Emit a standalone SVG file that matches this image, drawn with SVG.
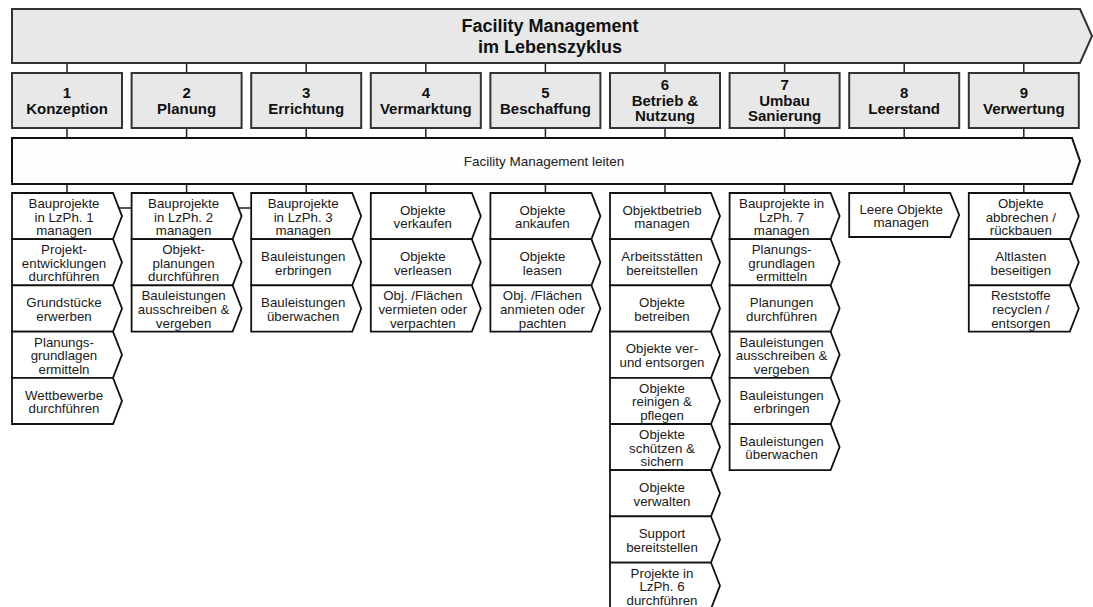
<svg xmlns="http://www.w3.org/2000/svg" width="1093" height="607" viewBox="0 0 1093 607">
  <style>
    .banner { fill: #e8e8e8; stroke: #333; stroke-width: 2; stroke-linejoin: miter; }
    .lead { fill: #fdfdfd; stroke: #111; stroke-width: 2; }
    .phase { fill: #e8e8e8; stroke: #333; stroke-width: 2; }
    .task { fill: #ffffff; stroke: #111; stroke-width: 1.8; stroke-linejoin: miter; }
    .wire { stroke: #222; stroke-width: 1.5; fill: none; }
    .title { font-family: "Liberation Sans", Arial, sans-serif; font-size: 18px; font-weight: bold; fill: #111; text-anchor: middle; }
    .ph { font-family: "Liberation Sans", Arial, sans-serif; font-size: 15px; font-weight: bold; fill: #111; text-anchor: middle; }
    .lt { font-family: "Liberation Sans", Arial, sans-serif; font-size: 13.5px; fill: #222; text-anchor: middle; }
    .t { font-family: "Liberation Sans", Arial, sans-serif; font-size: 13.3px; fill: #1a1a1a; text-anchor: middle; }
  </style>

  <rect width="1093" height="607" fill="#ffffff"/>

  <!-- connectors -->
  <g id="connectors" class="wire">
    <!-- banner to phases -->
    <path d="M67 63V73M186.6 63V73M306.2 63V73M425.8 63V73M545.4 63V73M665 63V73M784.6 63V73M904.2 63V73M1023.8 63V73"/>
    <!-- phases to management bar -->
    <path d="M67 128V138M186.6 128V138M306.2 128V138M425.8 128V138M545.4 128V138M665 128V138M784.6 128V138M904.2 128V138M1023.8 128V138"/>
    <!-- management bar to task columns -->
    <path d="M67 184V193M186.6 184V193M306.2 184V193M425.8 184V193M545.4 184V193M665 184V193M784.6 184V193M904.2 184V193M1023.8 184V193"/>
    <!-- links between project tasks -->
    <path d="M118.8 208H131.6M238.4 208H251.2"/>
  </g>

  <!-- top banner -->
  <g id="lifecycle">
    <polygon class="banner" points="12,9 1080,9 1092,36 1080,63 12,63"/>
    <text class="title" x="550" y="32">Facility Management</text>
    <text class="title" x="550" y="53">im Lebenszyklus</text>
  </g>

  <!-- phases -->
  <g id="phase1"><rect class="phase" x="12" y="73" width="110" height="55"/>
    <text class="ph" x="67" y="98"><tspan x="67">1</tspan><tspan x="67" dy="15.5">Konzeption</tspan></text></g>
  <g id="phase2"><rect class="phase" x="131.6" y="73" width="110" height="55"/>
    <text class="ph" x="186.6" y="98"><tspan x="186.6">2</tspan><tspan x="186.6" dy="15.5">Planung</tspan></text></g>
  <g id="phase3"><rect class="phase" x="251.2" y="73" width="110" height="55"/>
    <text class="ph" x="306.2" y="98"><tspan x="306.2">3</tspan><tspan x="306.2" dy="15.5">Errichtung</tspan></text></g>
  <g id="phase4"><rect class="phase" x="370.8" y="73" width="110" height="55"/>
    <text class="ph" x="425.8" y="98"><tspan x="425.8">4</tspan><tspan x="425.8" dy="15.5">Vermarktung</tspan></text></g>
  <g id="phase5"><rect class="phase" x="490.4" y="73" width="110" height="55"/>
    <text class="ph" x="545.4" y="98"><tspan x="545.4">5</tspan><tspan x="545.4" dy="15.5">Beschaffung</tspan></text></g>
  <g id="phase6"><rect class="phase" x="610" y="73" width="110" height="55"/>
    <text class="ph" x="665" y="90.2"><tspan x="665">6</tspan><tspan x="665" dy="15.5">Betrieb &amp;</tspan><tspan x="665" dy="15.5">Nutzung</tspan></text></g>
  <g id="phase7"><rect class="phase" x="729.6" y="73" width="110" height="55"/>
    <text class="ph" x="784.6" y="90.2"><tspan x="784.6">7</tspan><tspan x="784.6" dy="15.5">Umbau</tspan><tspan x="784.6" dy="15.5">Sanierung</tspan></text></g>
  <g id="phase8"><rect class="phase" x="849.2" y="73" width="110" height="55"/>
    <text class="ph" x="904.2" y="98"><tspan x="904.2">8</tspan><tspan x="904.2" dy="15.5">Leerstand</tspan></text></g>
  <g id="phase9"><rect class="phase" x="968.8" y="73" width="110" height="55"/>
    <text class="ph" x="1023.8" y="98"><tspan x="1023.8">9</tspan><tspan x="1023.8" dy="15.5">Verwertung</tspan></text></g>

  <!-- management bar -->
  <g id="fm-leiten">
    <polygon class="lead" points="12,138 1072,138 1080,161 1072,184 12,184"/>
    <text class="lt" x="544" y="166">Facility Management leiten</text>
  </g>

  <!-- column 1 -->
  <g id="c1-1"><polygon class="task" points="12,193 113,193 122,216.1 113,239.2 12,239.2"/>
    <text class="t" y="208"><tspan x="64">Bauprojekte</tspan><tspan x="64" dy="13.6">in LzPh. 1</tspan><tspan x="64" dy="13.6">managen</tspan></text></g>
  <g id="c1-2"><polygon class="task" points="12,239.2 113,239.2 122,262.3 113,285.4 12,285.4"/>
    <text class="t" y="254.2"><tspan x="64">Projekt-</tspan><tspan x="64" dy="13.6">entwicklungen</tspan><tspan x="64" dy="13.6">durchführen</tspan></text></g>
  <g id="c1-3"><polygon class="task" points="12,285.4 113,285.4 122,308.5 113,331.6 12,331.6"/>
    <text class="t" y="307.2"><tspan x="64">Grundstücke</tspan><tspan x="64" dy="13.6">erwerben</tspan></text></g>
  <g id="c1-4"><polygon class="task" points="12,331.6 113,331.6 122,354.7 113,377.8 12,377.8"/>
    <text class="t" y="346.6"><tspan x="64">Planungs-</tspan><tspan x="64" dy="13.6">grundlagen</tspan><tspan x="64" dy="13.6">ermitteln</tspan></text></g>
  <g id="c1-5"><polygon class="task" points="12,377.8 113,377.8 122,400.9 113,424 12,424"/>
    <text class="t" y="399.6"><tspan x="64">Wettbewerbe</tspan><tspan x="64" dy="13.6">durchführen</tspan></text></g>

  <!-- column 2 -->
  <g id="c2-1"><polygon class="task" points="131.6,193 232.6,193 241.6,216.1 232.6,239.2 131.6,239.2"/>
    <text class="t" y="208"><tspan x="183.6">Bauprojekte</tspan><tspan x="183.6" dy="13.6">in LzPh. 2</tspan><tspan x="183.6" dy="13.6">managen</tspan></text></g>
  <g id="c2-2"><polygon class="task" points="131.6,239.2 232.6,239.2 241.6,262.3 232.6,285.4 131.6,285.4"/>
    <text class="t" y="254.2"><tspan x="183.6">Objekt-</tspan><tspan x="183.6" dy="13.6">planungen</tspan><tspan x="183.6" dy="13.6">durchführen</tspan></text></g>
  <g id="c2-3"><polygon class="task" points="131.6,285.4 232.6,285.4 241.6,308.5 232.6,331.6 131.6,331.6"/>
    <text class="t" y="300.4"><tspan x="183.6">Bauleistungen</tspan><tspan x="183.6" dy="13.6">ausschreiben &amp;</tspan><tspan x="183.6" dy="13.6">vergeben</tspan></text></g>

  <!-- column 3 -->
  <g id="c3-1"><polygon class="task" points="251.2,193 352.2,193 361.2,216.1 352.2,239.2 251.2,239.2"/>
    <text class="t" y="208"><tspan x="303.2">Bauprojekte</tspan><tspan x="303.2" dy="13.6">in LzPh. 3</tspan><tspan x="303.2" dy="13.6">managen</tspan></text></g>
  <g id="c3-2"><polygon class="task" points="251.2,239.2 352.2,239.2 361.2,262.3 352.2,285.4 251.2,285.4"/>
    <text class="t" y="261"><tspan x="303.2">Bauleistungen</tspan><tspan x="303.2" dy="13.6">erbringen</tspan></text></g>
  <g id="c3-3"><polygon class="task" points="251.2,285.4 352.2,285.4 361.2,308.5 352.2,331.6 251.2,331.6"/>
    <text class="t" y="307.2"><tspan x="303.2">Bauleistungen</tspan><tspan x="303.2" dy="13.6">überwachen</tspan></text></g>

  <!-- column 4 -->
  <g id="c4-1"><polygon class="task" points="370.8,193 471.8,193 480.8,216.1 471.8,239.2 370.8,239.2"/>
    <text class="t" y="214.8"><tspan x="422.8">Objekte</tspan><tspan x="422.8" dy="13.6">verkaufen</tspan></text></g>
  <g id="c4-2"><polygon class="task" points="370.8,239.2 471.8,239.2 480.8,262.3 471.8,285.4 370.8,285.4"/>
    <text class="t" y="261"><tspan x="422.8">Objekte</tspan><tspan x="422.8" dy="13.6">verleasen</tspan></text></g>
  <g id="c4-3"><polygon class="task" points="370.8,285.4 471.8,285.4 480.8,308.5 471.8,331.6 370.8,331.6"/>
    <text class="t" y="300.4"><tspan x="422.8">Obj. /Flächen</tspan><tspan x="422.8" dy="13.6">vermieten oder</tspan><tspan x="422.8" dy="13.6">verpachten</tspan></text></g>

  <!-- column 5 -->
  <g id="c5-1"><polygon class="task" points="490.4,193 591.4,193 600.4,216.1 591.4,239.2 490.4,239.2"/>
    <text class="t" y="214.8"><tspan x="542.4">Objekte</tspan><tspan x="542.4" dy="13.6">ankaufen</tspan></text></g>
  <g id="c5-2"><polygon class="task" points="490.4,239.2 591.4,239.2 600.4,262.3 591.4,285.4 490.4,285.4"/>
    <text class="t" y="261"><tspan x="542.4">Objekte</tspan><tspan x="542.4" dy="13.6">leasen</tspan></text></g>
  <g id="c5-3"><polygon class="task" points="490.4,285.4 591.4,285.4 600.4,308.5 591.4,331.6 490.4,331.6"/>
    <text class="t" y="300.4"><tspan x="542.4">Obj. /Flächen</tspan><tspan x="542.4" dy="13.6">anmieten oder</tspan><tspan x="542.4" dy="13.6">pachten</tspan></text></g>

  <!-- column 6 -->
  <g id="c6-1"><polygon class="task" points="610,193 711,193 720,216.1 711,239.2 610,239.2"/>
    <text class="t" y="214.8"><tspan x="662">Objektbetrieb</tspan><tspan x="662" dy="13.6">managen</tspan></text></g>
  <g id="c6-2"><polygon class="task" points="610,239.2 711,239.2 720,262.3 711,285.4 610,285.4"/>
    <text class="t" y="261"><tspan x="662">Arbeitsstätten</tspan><tspan x="662" dy="13.6">bereitstellen</tspan></text></g>
  <g id="c6-3"><polygon class="task" points="610,285.4 711,285.4 720,308.5 711,331.6 610,331.6"/>
    <text class="t" y="307.2"><tspan x="662">Objekte</tspan><tspan x="662" dy="13.6">betreiben</tspan></text></g>
  <g id="c6-4"><polygon class="task" points="610,331.6 711,331.6 720,354.7 711,377.8 610,377.8"/>
    <text class="t" y="353.4"><tspan x="662">Objekte ver-</tspan><tspan x="662" dy="13.6">und entsorgen</tspan></text></g>
  <g id="c6-5"><polygon class="task" points="610,377.8 711,377.8 720,400.9 711,424 610,424"/>
    <text class="t" y="392.8"><tspan x="662">Objekte</tspan><tspan x="662" dy="13.6">reinigen &amp;</tspan><tspan x="662" dy="13.6">pflegen</tspan></text></g>
  <g id="c6-6"><polygon class="task" points="610,424 711,424 720,447.1 711,470.2 610,470.2"/>
    <text class="t" y="439"><tspan x="662">Objekte</tspan><tspan x="662" dy="13.6">schützen &amp;</tspan><tspan x="662" dy="13.6">sichern</tspan></text></g>
  <g id="c6-7"><polygon class="task" points="610,470.2 711,470.2 720,493.3 711,516.4 610,516.4"/>
    <text class="t" y="492"><tspan x="662">Objekte</tspan><tspan x="662" dy="13.6">verwalten</tspan></text></g>
  <g id="c6-8"><polygon class="task" points="610,516.4 711,516.4 720,539.5 711,562.6 610,562.6"/>
    <text class="t" y="538.2"><tspan x="662">Support</tspan><tspan x="662" dy="13.6">bereitstellen</tspan></text></g>
  <g id="c6-9"><polygon class="task" points="610,562.6 711,562.6 720,585.7 711,608.8 610,608.8"/>
    <text class="t" y="577.6"><tspan x="662">Projekte in</tspan><tspan x="662" dy="13.6">LzPh. 6</tspan><tspan x="662" dy="13.6">durchführen</tspan></text></g>

  <!-- column 7 -->
  <g id="c7-1"><polygon class="task" points="729.6,193 830.6,193 839.6,216.1 830.6,239.2 729.6,239.2"/>
    <text class="t" y="208"><tspan x="781.6">Bauprojekte in</tspan><tspan x="781.6" dy="13.6">LzPh. 7</tspan><tspan x="781.6" dy="13.6">managen</tspan></text></g>
  <g id="c7-2"><polygon class="task" points="729.6,239.2 830.6,239.2 839.6,262.3 830.6,285.4 729.6,285.4"/>
    <text class="t" y="254.2"><tspan x="781.6">Planungs-</tspan><tspan x="781.6" dy="13.6">grundlagen</tspan><tspan x="781.6" dy="13.6">ermitteln</tspan></text></g>
  <g id="c7-3"><polygon class="task" points="729.6,285.4 830.6,285.4 839.6,308.5 830.6,331.6 729.6,331.6"/>
    <text class="t" y="307.2"><tspan x="781.6">Planungen</tspan><tspan x="781.6" dy="13.6">durchführen</tspan></text></g>
  <g id="c7-4"><polygon class="task" points="729.6,331.6 830.6,331.6 839.6,354.7 830.6,377.8 729.6,377.8"/>
    <text class="t" y="346.6"><tspan x="781.6">Bauleistungen</tspan><tspan x="781.6" dy="13.6">ausschreiben &amp;</tspan><tspan x="781.6" dy="13.6">vergeben</tspan></text></g>
  <g id="c7-5"><polygon class="task" points="729.6,377.8 830.6,377.8 839.6,400.9 830.6,424 729.6,424"/>
    <text class="t" y="399.6"><tspan x="781.6">Bauleistungen</tspan><tspan x="781.6" dy="13.6">erbringen</tspan></text></g>
  <g id="c7-6"><polygon class="task" points="729.6,424 830.6,424 839.6,447.1 830.6,470.2 729.6,470.2"/>
    <text class="t" y="445.8"><tspan x="781.6">Bauleistungen</tspan><tspan x="781.6" dy="13.6">überwachen</tspan></text></g>

  <!-- column 8 -->
  <g id="c8-1"><polygon class="task" points="849.2,193 950.2,193 959.2,215 950.2,237 849.2,237"/>
    <text class="t" y="213.5"><tspan x="901.2">Leere Objekte</tspan><tspan x="901.2" dy="13.6">managen</tspan></text></g>

  <!-- column 9 -->
  <g id="c9-1"><polygon class="task" points="968.8,193 1069.8,193 1078.8,216.1 1069.8,239.2 968.8,239.2"/>
    <text class="t" y="208"><tspan x="1020.8">Objekte</tspan><tspan x="1020.8" dy="13.6">abbrechen /</tspan><tspan x="1020.8" dy="13.6">rückbauen</tspan></text></g>
  <g id="c9-2"><polygon class="task" points="968.8,239.2 1069.8,239.2 1078.8,262.3 1069.8,285.4 968.8,285.4"/>
    <text class="t" y="261"><tspan x="1020.8">Altlasten</tspan><tspan x="1020.8" dy="13.6">beseitigen</tspan></text></g>
  <g id="c9-3"><polygon class="task" points="968.8,285.4 1069.8,285.4 1078.8,308.5 1069.8,331.6 968.8,331.6"/>
    <text class="t" y="300.4"><tspan x="1020.8">Reststoffe</tspan><tspan x="1020.8" dy="13.6">recyclen /</tspan><tspan x="1020.8" dy="13.6">entsorgen</tspan></text></g>
</svg>
